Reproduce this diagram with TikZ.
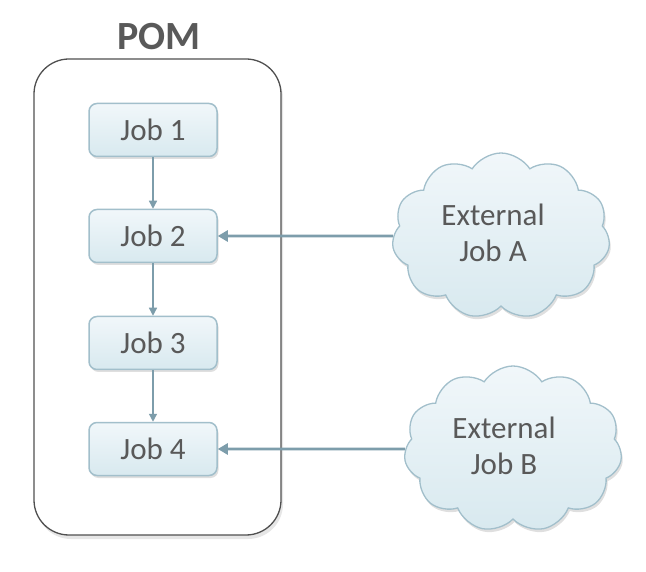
\documentclass[tikz,border=0pt]{standalone}
\usepackage{fontspec}
\setmainfont{Carlito}
\usetikzlibrary{shapes.symbols,shadows,arrows.meta}
\definecolor{txt}{HTML}{595959}
\definecolor{boxtop}{HTML}{F1F7FA}
\definecolor{boxbot}{HTML}{D8E9EF}
\definecolor{boxline}{HTML}{A2BFCB}
\definecolor{conn}{HTML}{7D9DAB}
\definecolor{frame}{HTML}{505050}
\begin{document}
\begin{tikzpicture}[x=1pt,y=-1pt,
  jobbox/.style={draw=boxline, line width=1.5pt, rounded corners=8pt,
    top color=boxtop, bottom color=boxbot, minimum width=128pt, minimum height=53pt,
    text=txt, font=\fontsize{31}{36}\selectfont,
    drop shadow={opacity=0.25, shadow xshift=1.5pt, shadow yshift=-2.5pt}},
  extcloud/.style={cloud, cloud puffs=11, cloud puff arc=115, cloud ignores aspect,
    draw=boxline, line width=1.3pt, top color=boxtop, bottom color=boxbot,
    minimum width=218pt, minimum height=166pt, inner sep=0pt,
    drop shadow={opacity=0.25, shadow xshift=1.5pt, shadow yshift=-3pt}},
  cloudtext/.style={text=txt, font=\fontsize{31}{36}\selectfont, align=center},
  pomframe/.style={draw=frame, line width=1.3pt, rounded corners=35pt, fill=white,
    minimum width=247pt, minimum height=476pt,
    drop shadow={opacity=0.2, shadow xshift=2pt, shadow yshift=-4pt}},
  vconn/.style={draw=conn, line width=1.3pt, -{Triangle[length=8pt,width=8pt]}},
  hconn/.style={draw=conn, line width=2.6pt, -{Triangle[length=10pt,width=11pt]}},
  title/.style={text=txt, font=\fontsize{40}{44}\selectfont\bfseries}
]
\useasboundingbox (0,0) rectangle (646,572);
\node[pomframe] (pom) at (157.5,297) {};
\node[title] (pomlabel) at (159,37) {POM};
\node[jobbox] (job1) at (153,130) {Job 1};
\node[jobbox] (job2) at (153,236) {Job 2};
\node[jobbox] (job3) at (153,343) {Job 3};
\node[jobbox] (job4) at (153,449) {Job 4};
\node[extcloud, label={[cloudtext, xshift=-8pt, yshift=3pt]center:External\\Job A}] (extA) at (501,236) {};
\node[extcloud, label={[cloudtext, xshift=-9pt, yshift=3pt]center:External\\Job B}] (extB) at (513,449) {};
\draw[vconn] (job1.south) -- (job2.north);
\draw[vconn] (job2.south) -- (job3.north);
\draw[vconn] (job3.south) -- (job4.north);
\draw[hconn] (extA.west) -- (job2.east);
\draw[hconn] (extB.west) -- (job4.east);
\end{tikzpicture}
\end{document}
